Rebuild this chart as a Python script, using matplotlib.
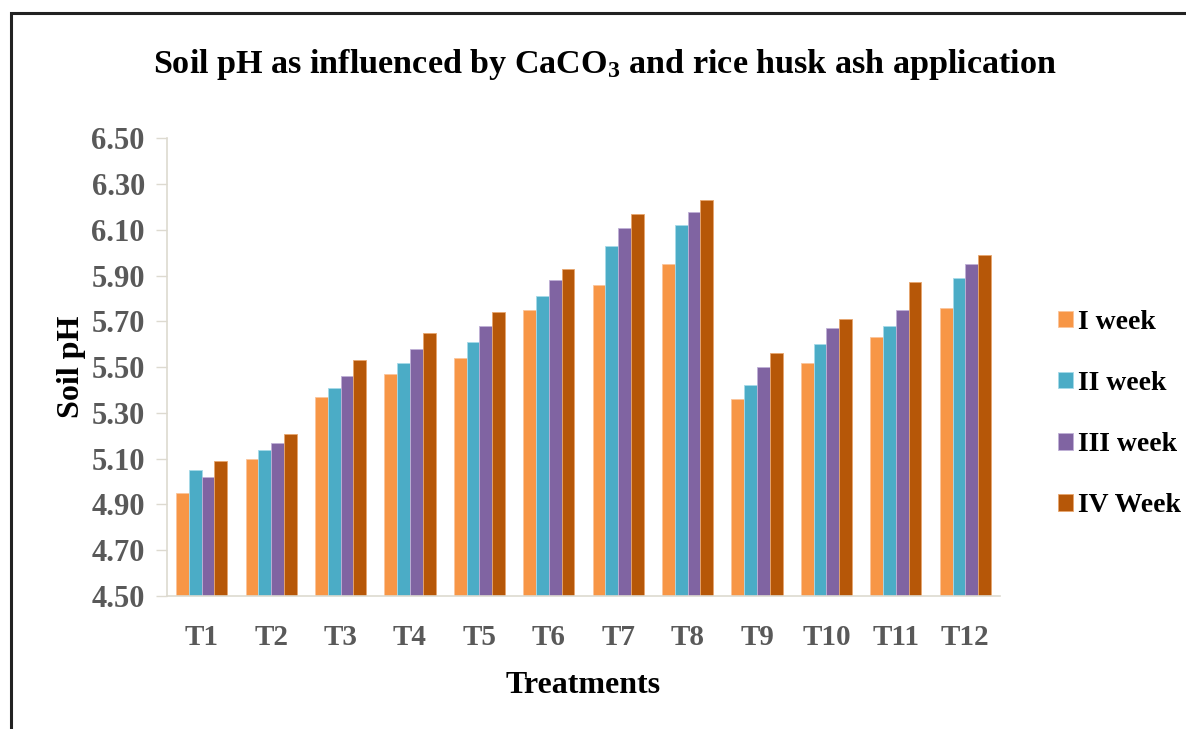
import matplotlib
matplotlib.use("Agg")
import matplotlib.pyplot as plt
import numpy as np
from matplotlib.patches import Rectangle

# ---- data ----
treatments = ["T1", "T2", "T3", "T4", "T5", "T6", "T7", "T8", "T9", "T10", "T11", "T12"]
week1 = [4.95, 5.10, 5.37, 5.47, 5.54, 5.75, 5.86, 5.95, 5.36, 5.52, 5.63, 5.76]
week2 = [5.05, 5.14, 5.41, 5.52, 5.61, 5.81, 6.03, 6.12, 5.42, 5.60, 5.68, 5.89]
week3 = [5.02, 5.17, 5.46, 5.58, 5.68, 5.88, 6.11, 6.18, 5.50, 5.67, 5.75, 5.95]
week4 = [5.09, 5.21, 5.53, 5.65, 5.74, 5.93, 6.17, 6.23, 5.56, 5.71, 5.87, 5.99]
series_labels = ["I week", "II week", "III week", "IV Week"]
y_ticks = [4.50, 4.70, 4.90, 5.10, 5.30, 5.50, 5.70, 5.90, 6.10, 6.30, 6.50]

colors = ["#F79646", "#4BACC6", "#8064A2", "#B65708"]
edge_colors = ["#FBC59B", "#A6DAE8", "#BFB0D6", "#E8A66E"]

plt.rcParams['font.family'] = ['Liberation Serif', 'DejaVu Serif']
plt.rcParams['font.weight'] = 'bold'
plt.rcParams['mathtext.fontset'] = 'custom'
plt.rcParams['mathtext.rm'] = 'Liberation Serif:bold'
plt.rcParams['mathtext.bf'] = 'Liberation Serif:bold'
plt.rcParams['mathtext.it'] = 'Liberation Serif:bold'
plt.rcParams['mathtext.default'] = 'rm'

W, H = 1186, 729
fig = plt.figure(figsize=(W / 100, H / 100), dpi=100)
fig.patch.set_facecolor("white")

ax = fig.add_axes([167 / W, 1 - 596 / H, (1000 - 167) / W, (596 - 138.3) / H])

x = np.arange(len(treatments))
bw = 0.184
all_series = [week1, week2, week3, week4]
for i, (vals, lab) in enumerate(zip(all_series, series_labels)):
    ax.bar(x + (i - 1.5) * bw, vals, width=bw, color=colors[i],
           edgecolor=edge_colors[i], linewidth=0.6, label=lab, zorder=2)

ax.set_ylim(4.50, 6.50)
ax.set_xlim(-0.5, len(treatments) - 0.5)
ax.set_yticks(y_ticks)
ax.set_yticklabels([f"{v:.2f}" for v in y_ticks])
ax.set_xticks(x)
ax.set_xticklabels(treatments)

grey = "#595959"
spine_c = "#DDDAD0"
for s in ["top", "right"]:
    ax.spines[s].set_visible(False)
for s in ["left", "bottom"]:
    ax.spines[s].set_color(spine_c)
    ax.spines[s].set_linewidth(1.2)
ax.tick_params(axis='y', length=8, width=1.0, color=spine_c, pad=8,
               labelsize=22, labelcolor=grey)
ax.tick_params(axis='x', length=0, pad=20, labelsize=21, labelcolor=grey)
for t in ax.get_xticklabels() + ax.get_yticklabels():
    t.set_fontweight('bold')

ax.set_xlabel("Treatments", fontsize=23, fontweight='bold', color='black')
ax.xaxis.set_label_coords(0.5, -0.163)
ax.set_ylabel("Soil pH", fontsize=23, fontweight='bold', color='black')
ax.yaxis.set_label_coords(-0.097, 0.50)

fig.text(605 / W, 1 - 64 / H,
         r"Soil pH as influenced by CaCO$_{3}$ and rice husk ash application",
         ha='center', va='center', fontsize=24.6, fontweight='bold', color='black')

leg = fig.legend(loc='center left', bbox_to_anchor=(1047 / W, 1 - 414 / H),
                 frameon=False, fontsize=20, handlelength=0.55, handleheight=0.55,
                 handletextpad=0.15, labelspacing=1.3, borderaxespad=0)
for t in leg.get_texts():
    t.set_fontweight('bold')

# outer frame (right/bottom extend beyond the image)
fig.patches.append(Rectangle((11 / W, -0.1), 1.2, 1 - 13 / H + 0.1,
                             transform=fig.transFigure, fill=False,
                             edgecolor='#222222', linewidth=2.2))

fig.savefig("out.png", dpi=100, facecolor="white")
